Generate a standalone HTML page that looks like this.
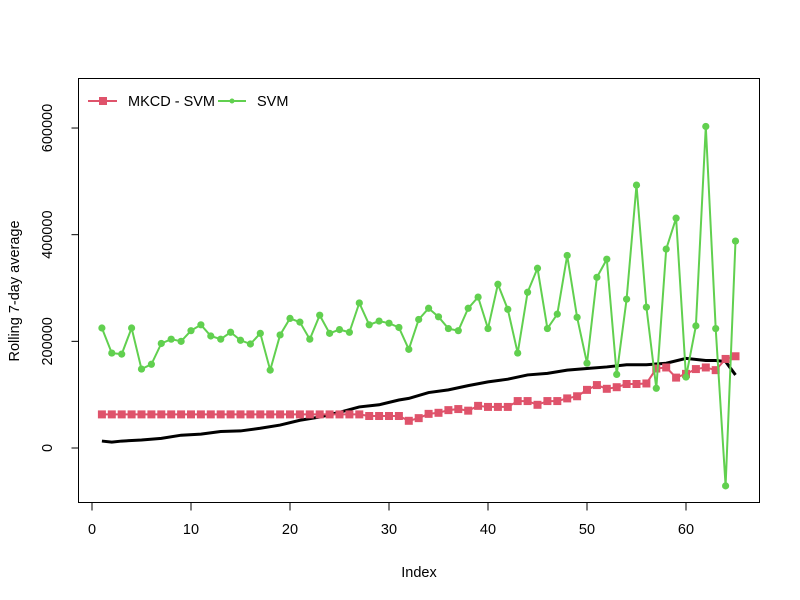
<!DOCTYPE html>
<html><head><meta charset="utf-8"><style>
body{margin:0;background:#fff}
svg{display:block;font-family:"Liberation Sans",Arial,sans-serif}
</style></head><body>
<svg id="chart" width="800" height="600"></svg>
<script>
const xTicks=[0,10,20,30,40,50,60];
const yTicks=[0,200000,400000,600000];
const yTickLabels=["0","200000","400000","600000"];
const svmValues=[225000,178000,176000,225000,148000,157000,196000,204000,200000,220000,231000,210000,204000,217000,202000,195000,215000,146000,212000,243000,236000,204000,249000,215000,222000,217000,272000,231000,238000,234000,226000,185000,241000,262000,246000,224000,220000,262000,283000,224000,307000,260000,178000,292000,337000,224000,251000,361000,245000,159000,320000,354000,138000,279000,493000,264000,112000,373000,431000,133000,229000,603000,224000,-71000,388000];
const mkcdValues=[63000,63000,63000,63000,63000,63000,63000,63000,63000,63000,63000,63000,63000,63000,63000,63000,63000,63000,63000,63000,63000,63000,63000,63000,63000,63000,63000,60000,60000,60000,60000,51000,56000,64000,66000,71000,73000,70000,79000,77000,77000,77000,88000,88000,81000,88000,88000,93000,97000,109000,118000,111000,114000,120000,120000,121000,149000,151000,132000,139000,148000,151000,146000,167000,172000];
const blackIdx=[1,2,3,5,7,9,11,13,15,17,19,21,23,25,27,29,31,32,34,36,38,40,42,44,46,48,50,52,54,56,58,60,62,63,64,65];
const blackValues=[13000,11000,13000,15000,18000,24000,26000,31000,32000,37000,43000,52000,58000,67000,77000,81000,90000,93000,104000,109000,117000,124000,129000,137000,140000,146000,149000,152000,156000,156000,159000,168000,164000,164000,162000,137000];

const NS="http://www.w3.org/2000/svg";
const svg=document.getElementById('chart');
function X(i){return 92+i*9.9;}
function Y(v){return 448-v*0.0005333;}
function el(tag,attrs,parent){const e=document.createElementNS(NS,tag);for(const k in attrs)e.setAttribute(k,attrs[k]);(parent||svg).appendChild(e);return e;}

const box=el('rect',{x:78.5,y:78.5,width:681,height:424,fill:'none',stroke:'#000','stroke-width':1});



const xa=el('g',{});


xTicks.forEach(t=>{
  el('line',{x1:X(t),x2:X(t),y1:502.5,y2:510.5,stroke:'#000'},xa);
  const tx=el('text',{x:X(t),y:534,'text-anchor':'middle','font-size':'14.5'},xa);
  tx.textContent=t;
  
  
});
const ya=el('g',{});


yTicks.forEach((t,i)=>{
  el('line',{x1:71.5,x2:78.5,y1:Y(t),y2:Y(t),stroke:'#000'},ya);
  const tx=el('text',{x:52,y:Y(t),'text-anchor':'middle','font-size':'14.5',transform:`rotate(-90 52 ${Y(t)})`},ya);
  tx.textContent=yTickLabels[i];
  
  
});
const xt=el('text',{x:419,y:577,'text-anchor':'middle','font-size':'14.5'});
xt.textContent='Index';


const yt=el('text',{x:19,y:291,'text-anchor':'middle','font-size':'14.5',transform:'rotate(-90 19 291)'});
yt.textContent='Rolling 7-day average';



const bl=el('polyline',{points:blackIdx.map((i,k)=>X(i)+','+Y(blackValues[k])).join(' '),fill:'none',stroke:'#000','stroke-width':3});



const rl=el('polyline',{points:mkcdValues.map((v,i)=>X(i+1)+','+Y(v)).join(' '),fill:'none',stroke:'#DF536B','stroke-width':2});


mkcdValues.forEach((v,i)=>{
  const p=el('rect',{x:X(i+1)-4,y:Y(v)-4,width:8,height:8,fill:'#DF536B'});
  
  
});
const gl=el('polyline',{points:svmValues.map((v,i)=>X(i+1)+','+Y(v)).join(' '),fill:'none',stroke:'#61D04F','stroke-width':2});


svmValues.forEach((v,i)=>{
  const p=el('circle',{cx:X(i+1),cy:Y(v),r:3.6,fill:'#61D04F'});
  
  
});

const lg=el('g',{});


const l1=el('g',{},lg);


el('line',{x1:88,x2:117,y1:101,y2:101,stroke:'#DF536B','stroke-width':2},l1);
el('rect',{x:99,y:97,width:8,height:8,fill:'#DF536B'},l1);
el('text',{x:128,y:106,'font-size':'14.5'},l1).textContent='MKCD - SVM';
const l2=el('g',{},lg);


el('line',{x1:218,x2:246,y1:101,y2:101,stroke:'#61D04F','stroke-width':2},l2);
el('circle',{cx:232,cy:101,r:2.5,fill:'#61D04F'},l2);
el('text',{x:257,y:106,'font-size':'14.5'},l2).textContent='SVM';
</script>
</body></html>
